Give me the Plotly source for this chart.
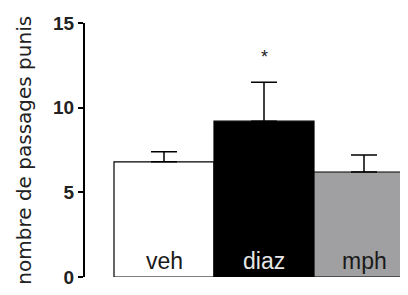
import plotly.graph_objects as go

categories = ["veh", "diaz", "mph"]
means = [6.8, 9.2, 6.2]
sem = [0.6, 2.3, 1.0]
bar_colors = ["#ffffff", "#000000", "#a0a0a2"]
label_colors = ["#1a1a1a", "#e6e6e6", "#1a1a1a"]
y_ticks = [0, 5, 10, 15]
significance = ["", "*", ""]
y_title = "nombre de passages punis"

xpos = list(range(len(categories)))

fig = go.Figure()
fig.add_trace(go.Bar(
    x=xpos, y=means, width=1.0,
    marker=dict(color=bar_colors, line=dict(color="#000000", width=1.2)),
    error_y=dict(type="data", array=sem, arrayminus=[0] * len(sem), symmetric=False,
                 color="#000000", thickness=1.5, width=13),
    showlegend=False, hoverinfo="skip",
))

for i, (c, lc) in enumerate(zip(categories, label_colors)):
    fig.add_annotation(x=i, y=0.95, text=c, showarrow=False, xref="x", yref="y",
                       font=dict(family="Liberation Sans, Arial", size=23, color=lc))
for i, s in enumerate(significance):
    if s:
        fig.add_annotation(x=i, y=means[i] + sem[i] + 1.5, text=s, showarrow=False,
                           xref="x", yref="y",
                           font=dict(family="Liberation Sans, Arial", size=18, color="#222222"))

fig.add_annotation(x=-0.19, y=0.5, xref="paper", yref="paper", text=y_title,
                   textangle=-90, showarrow=False, xanchor="center", yanchor="middle",
                   font=dict(family="DejaVu Sans", size=20, color="#222222"))

fig.update_layout(
    width=400, height=287,
    margin=dict(l=77, r=0, t=15, b=18),
    paper_bgcolor="white", plot_bgcolor="white",
    xaxis=dict(range=[-0.79, 2.44], showticklabels=False, showline=False, showgrid=False,
               zeroline=False, ticks="", automargin=False),
    yaxis=dict(range=[0, 15], tickvals=y_ticks, ticktext=[f"<b>{v}</b>" for v in y_ticks],
               showline=True, linecolor="#000000", linewidth=2,
               ticks="outside", ticklen=5, tickwidth=2, tickcolor="#000000",
               showgrid=False, zeroline=False, automargin=False,
               tickfont=dict(family="Liberation Sans, Arial", size=19, color="#222222")),
)

fig.write_html("out.html")
